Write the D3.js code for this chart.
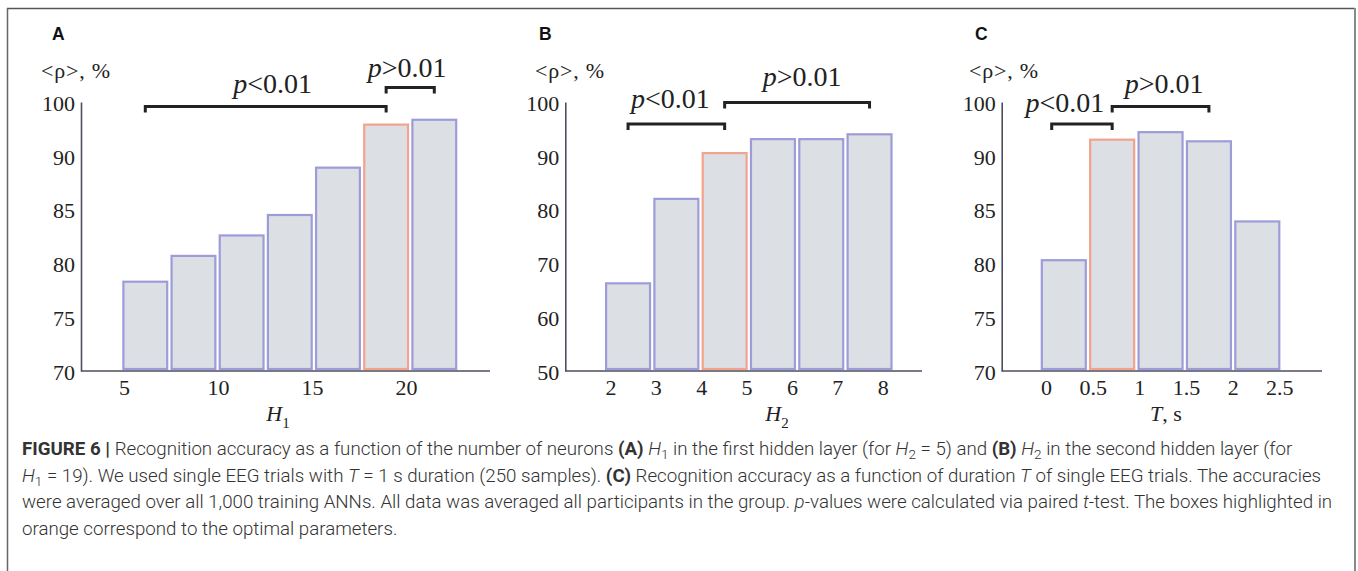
<!DOCTYPE html>
<html>
<head>
<meta charset="utf-8">
<script src="https://cdn.jsdelivr.net/npm/d3@7"></script>
<style>
  html, body { margin: 0; padding: 0; background: #fff; }
  svg { display: block; }
</style>
</head>
<body>
<svg id="fig" width="1358" height="571"></svg>
<script>
// ---- values ----
// (A) accuracy vs. number of neurons in the first hidden layer
const h1TickValues = [5, 10, 15, 20];
const h1Accuracy = [78.4, 80.8, 82.7, 84.6, 89.0, 96.0, 96.9];
const h1Optimal = 5;
const h1Brackets = [
  { from: 0, to: 5, sign: "<0.01" },
  { from: 5, to: 6, sign: ">0.01" }
];

// (B) accuracy vs. number of neurons in the second hidden layer
const h2TickValues = [2, 3, 4, 5, 6, 7, 8];
const h2Accuracy = [66.5, 82.2, 90.7, 93.3, 93.3, 94.2];
const h2Optimal = 2;
const h2Brackets = [
  { from: 0, to: 2, sign: "<0.01" },
  { from: 2, to: 5, sign: ">0.01" }
];

// (C) accuracy vs. trial duration T, s
const tTickValues = [0, 0.5, 1, 1.5, 2, 2.5];
const tAccuracy = [80.4, 93.2, 94.6, 92.9, 84.0];
const tOptimal = 1;
const tBrackets = [
  { from: -0.25, to: 1, sign: "<0.01" },
  { from: 1, to: 3, sign: ">0.01" }
];

// y-axis tick labels
const yTicksAC = [70, 75, 80, 85, 90, 100];
const yTicksB = [50, 60, 70, 80, 90, 100];

// ---- drawing ----
const svg = d3.select("#fig");
const SERIF = "'Liberation Serif', 'Times New Roman', serif";
const SANS = "'Liberation Sans', Arial, sans-serif";
const AXIS_COLOR = "#4e4e5e";
const FILL = "#dce0e5";
const STROKE = "#9d9cd9";
const STROKE_OPT = "#f3a28c";
const BASE_Y = 371;
const TOP_Y = 102;

// frame around the figure
svg.append("line").attr("x1", 7).attr("x2", 1355).attr("y1", 8.5).attr("y2", 8.5)
  .attr("stroke", "#555").attr("stroke-width", 1.5);
svg.append("line").attr("x1", 7.5).attr("x2", 7.5).attr("y1", 8).attr("y2", 571)
  .attr("stroke", "#666").attr("stroke-width", 1.5);
svg.append("line").attr("x1", 1355).attr("x2", 1355).attr("y1", 8).attr("y2", 571)
  .attr("stroke", "#8a8a8a").attr("stroke-width", 2);

function drawPanel(p) {
  const g = svg.append("g");

  // panel letter
  g.append("text").attr("x", p.letterX).attr("y", 39.5)
    .attr("font-family", SANS).attr("font-weight", "bold").attr("font-size", 17.5)
    .attr("fill", "#111").text(p.letter);

  // y-axis caption
  g.append("text").attr("x", p.yLabelX).attr("y", 77.5)
    .attr("font-family", SERIF).attr("font-size", 22).attr("letter-spacing", 0.8)
    .attr("fill", "#222").text("<ρ>, %");

  // scales
  const y = d3.scaleLinear().domain(p.yDomain).range(p.yRange);
  const band = d3.scaleBand().domain(d3.range(p.values.length))
    .range(p.barRange).paddingInner(0.045).paddingOuter(0);
  const centre = d3.scaleLinear().domain([0, p.values.length - 1])
    .range([band(0) + band.bandwidth() / 2,
            band(p.values.length - 1) + band.bandwidth() / 2]);
  const xt = d3.scaleLinear().domain(p.xTickDomain).range(p.xTickRange);

  // bars
  const bottom = BASE_Y - 2;
  g.selectAll("rect.bar").data(p.values).join("rect")
    .attr("class", "bar")
    .attr("x", (d, i) => band(i) + 1.1)
    .attr("width", band.bandwidth() - 2.2)
    .attr("y", d => y(d) + 1.1)
    .attr("height", d => bottom - (y(d) + 1.1))
    .attr("fill", FILL)
    .attr("stroke", (d, i) => i === p.optimal ? STROKE_OPT : STROKE)
    .attr("stroke-width", 2.2);
  // the highlighted bar is drawn on top of its neighbours
  g.selectAll("rect.bar").filter((d, i) => i === p.optimal).raise();

  // y axis
  const yAxis = d3.axisLeft(y).tickValues(p.yTicks).tickSize(0).tickPadding(6)
    .tickFormat(d3.format("d"));
  const ya = g.append("g").attr("transform", `translate(${p.axisX0},0)`).call(yAxis);
  ya.select(".domain").attr("stroke", AXIS_COLOR).attr("stroke-width", 1.6);
  ya.selectAll("text").attr("font-family", SERIF).attr("font-size", 22)
    .attr("fill", "#222").attr("dy", "0.38em");

  // x axis: baseline and tick labels
  g.append("line").attr("x1", p.axisX0).attr("x2", p.axisX1)
    .attr("y1", BASE_Y).attr("y2", BASE_Y)
    .attr("stroke", AXIS_COLOR).attr("stroke-width", 1.6);
  const xAxis = d3.axisBottom(xt).tickValues(p.xTicks).tickSize(0).tickPadding(8)
    .tickFormat(d => String(d));
  const xa = g.append("g").attr("transform", `translate(0,${BASE_Y})`).call(xAxis);
  xa.select(".domain").remove();
  xa.selectAll("text").attr("font-family", SERIF).attr("font-size", 22).attr("fill", "#222");

  // x-axis title
  const title = g.append("text").attr("x", p.xTitleX).attr("y", 421)
    .attr("text-anchor", "middle").attr("font-family", SERIF).attr("font-size", 22)
    .attr("fill", "#222");
  title.append("tspan").attr("font-style", "italic").text(p.xTitle[0]);
  if (p.xTitle[1]) {
    title.append("tspan").attr("font-size", 15).attr("dy", 7).text(p.xTitle[1]);
  }
  if (p.xTitle[2]) {
    title.append("tspan").text(p.xTitle[2]);
  }

  // significance brackets
  p.brackets.forEach((b, k) => {
    const lay = p.bracketLayout[k];
    const x1 = centre(b.from), x2 = centre(b.to), yy = lay.level;
    g.append("path")
      .attr("d", `M${x1},${yy + 6}V${yy}H${x2}V${yy + 6}`)
      .attr("fill", "none").attr("stroke", "#222").attr("stroke-width", 3);
    const t = g.append("text").attr("x", (x1 + x2) / 2 + lay.dx).attr("y", yy - lay.rise)
      .attr("text-anchor", "middle").attr("font-family", SERIF).attr("font-size", 28)
      .attr("fill", "#222");
    t.append("tspan").attr("font-style", "italic").text("p");
    t.append("tspan").text(b.sign);
  });
}

drawPanel({
  letter: "A", letterX: 52, yLabelX: 41,
  values: h1Accuracy, optimal: h1Optimal,
  yDomain: [70, 90, 100], yRange: [BASE_Y, 155.8, TOP_Y], yTicks: yTicksAC,
  barRange: [122.3, 457.3],
  xTickDomain: [5, 20], xTickRange: [124, 406], xTicks: h1TickValues,
  axisX0: 81, axisX1: 490,
  xTitle: ["H", "1"], xTitleX: 278,
  brackets: h1Brackets,
  bracketLayout: [{ level: 106.5, rise: 13.5, dx: 7 }, { level: 87.5, rise: 10.5, dx: -3 }]
});

drawPanel({
  letter: "B", letterX: 539, yLabelX: 535,
  values: h2Accuracy, optimal: h2Optimal,
  yDomain: [50, 100], yRange: [BASE_Y, TOP_Y], yTicks: yTicksB,
  barRange: [605, 892.6],
  xTickDomain: [2, 8], xTickRange: [610.5, 882.7], xTicks: h2TickValues,
  axisX0: 565.3, axisX1: 922,
  xTitle: ["H", "2"], xTitleX: 777,
  brackets: h2Brackets,
  bracketLayout: [{ level: 124, rise: 16.5, dx: -6 }, { level: 102.5, rise: 16.5, dx: 5 }]
});

drawPanel({
  letter: "C", letterX: 975, yLabelX: 969,
  values: tAccuracy, optimal: tOptimal,
  yDomain: [70, 90, 100], yRange: [BASE_Y, 155.8, TOP_Y], yTicks: yTicksAC,
  barRange: [1040.7, 1280.4],
  xTickDomain: [0, 2.5], xTickRange: [1046, 1279.3], xTicks: tTickValues,
  axisX0: 1001.7, axisX1: 1322,
  xTitle: ["T", null, ", s"], xTitleX: 1166,
  brackets: tBrackets,
  bracketLayout: [{ level: 124, rise: 12.5, dx: -17 }, { level: 106.5, rise: 13.5, dx: 3.5 }]
});

// ---- caption ----
const CAP_FONT = "Roboto, 'Liberation Sans', Arial, sans-serif";
const captionLines = [
  [["FIGURE 6 | ", "b"], ["Recognition accuracy as a function of the number of neurons "], ["(A)", "b"], [" "],
   ["H", "i"], ["1", "s"], [" in the first hidden layer (for "], ["H", "i"], ["2", "s"], [" = 5) and "],
   ["(B)", "b"], [" "], ["H", "i"], ["2", "s"], [" in the second hidden layer (for"]],
  [["H", "i"], ["1", "s"], [" = 19). We used single EEG trials with "], ["T", "i"],
   [" = 1 s duration (250 samples). "], ["(C)", "b"],
   [" Recognition accuracy as a function of duration "], ["T", "i"],
   [" of single EEG trials. The accuracies"]],
  [["were averaged over all 1,000 training ANNs. All data was averaged all participants in the group. "],
   ["p", "i"], ["-values were calculated via paired "], ["t", "i"], ["-test. The boxes highlighted in"]],
  [["orange correspond to the optimal parameters."]]
];

const cap = svg.append("g").attr("transform", "translate(22,0)");
const capInner = cap.append("g");
const lineNodes = captionLines.map((segs, li) => {
  const t = capInner.append("text").attr("x", 0).attr("y", 455 + li * 26.6)
    .attr("font-family", CAP_FONT).attr("font-size", 18).attr("font-weight", 300)
    .attr("fill", "#333");
  let lowered = false;
  segs.forEach(([txt, kind]) => {
    const s = t.append("tspan").text(txt);
    if (kind === "b") s.attr("font-weight", 700);
    if (kind === "i") s.attr("font-style", "italic");
    if (kind === "s") { s.attr("font-size", 13).attr("dy", 4); lowered = true; }
    else if (lowered) { s.attr("dy", -4); lowered = false; }
  });
  return t.node();
});
// condense the caption so the second line spans the text block width
const natural = lineNodes[1].getComputedTextLength();
capInner.attr("transform", `scale(${1300 / natural},1)`);
</script>
</body>
</html>
